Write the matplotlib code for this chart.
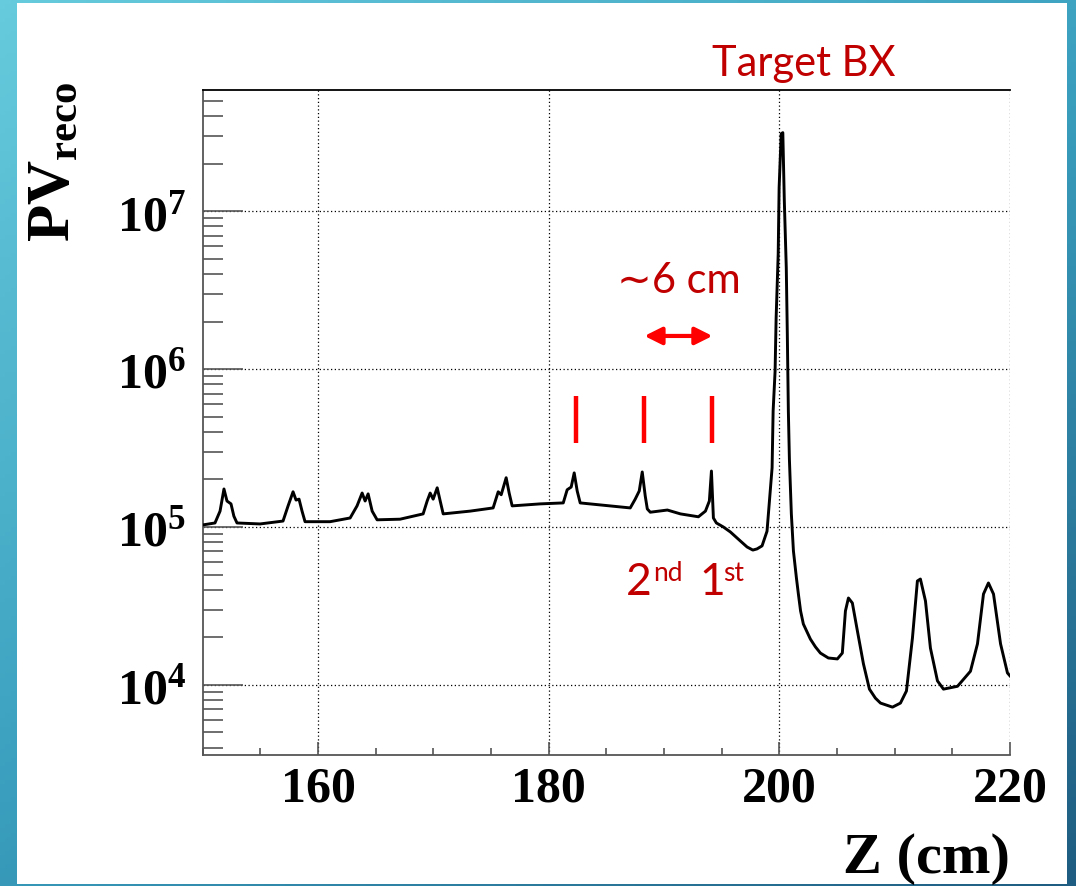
import numpy as np
import matplotlib
matplotlib.use("Agg")
import matplotlib.pyplot as plt
from matplotlib.colors import LinearSegmentedColormap
from matplotlib.ticker import FixedLocator, LogLocator, MultipleLocator, NullFormatter

plt.rcParams['mathtext.fontset'] = 'custom'
plt.rcParams['mathtext.rm'] = 'Liberation Serif'
plt.rcParams['mathtext.bf'] = 'Liberation Serif:bold'
plt.rcParams['mathtext.it'] = 'Liberation Serif:italic'

# ---- data ----
z = [150.0, 151.06, 151.5, 151.84, 152.1, 152.45, 152.7, 152.97, 154.97, 156.96,
     157.4, 157.83, 158.09, 158.35, 158.61, 158.87, 161.04, 162.78, 163.38, 163.82,
     164.08, 164.34, 164.69, 165.12, 167.11, 169.11, 169.46, 169.72, 169.98, 170.33,
     170.59, 170.85, 173.19, 175.18, 175.62, 175.88, 176.31, 176.57, 176.83, 179.26,
     181.26, 181.6, 181.95, 182.21, 182.47, 182.73, 187.07, 187.5, 187.85, 188.11,
     188.37, 188.55, 188.81, 190.29, 191.42, 192.98, 193.59, 193.93, 194.11, 194.28,
     194.54, 195.14, 195.75, 196.62, 197.2, 197.7, 198.06, 198.5, 198.93, 199.37,
     199.46, 199.63, 199.72, 199.9, 199.98, 200.16, 200.3, 200.43, 200.6, 200.69,
     200.78, 200.87, 201.04, 201.22, 201.48, 201.65, 201.84, 202.08, 202.69, 203.13,
     203.56, 204.25, 205.03, 205.46, 205.73, 205.99, 206.33, 206.77, 207.29, 207.81,
     208.33, 208.77, 209.81, 210.5, 211.02, 211.54, 211.97, 212.23, 212.67, 213.1,
     213.71, 214.23, 215.45, 216.57, 217.18, 217.7, 218.13, 218.57, 219.18, 219.78,
     220.0]
pv = [1.03e5, 1.06e5, 1.26e5, 1.74e5, 1.46e5, 1.40e5, 1.17e5, 1.06e5, 1.045e5, 1.09e5,
      1.36e5, 1.67e5, 1.48e5, 1.50e5, 1.26e5, 1.08e5, 1.08e5, 1.14e5, 1.36e5, 1.64e5,
      1.46e5, 1.62e5, 1.26e5, 1.11e5, 1.12e5, 1.21e5, 1.46e5, 1.64e5, 1.50e5, 1.77e5,
      1.46e5, 1.21e5, 1.26e5, 1.32e5, 1.67e5, 1.60e5, 2.05e5, 1.64e5, 1.36e5, 1.40e5,
      1.42e5, 1.72e5, 1.79e5, 2.20e5, 1.69e5, 1.42e5, 1.32e5, 1.50e5, 1.69e5, 2.23e5,
      1.57e5, 1.30e5, 1.24e5, 1.28e5, 1.21e5, 1.16e5, 1.26e5, 1.46e5, 2.26e5, 1.14e5,
      1.06e5, 1.0e5, 9.3e4, 8.15e4, 7.47e4, 7.14e4, 7.26e4, 7.59e4, 9.4e4, 2.37e5,
      5.43e5, 9.7e5, 2.11e6, 5.37e6, 1.41e7, 3.09e7, 3.14e7, 1.16e7, 4.38e6, 1.67e6,
      5.43e5, 2.70e5, 1.21e5, 7.05e4, 4.75e4, 3.76e4, 2.94e4, 2.43e4, 1.95e4, 1.74e4,
      1.59e4, 1.48e4, 1.46e4, 1.59e4, 2.94e4, 3.55e4, 3.30e4, 2.19e4, 1.36e4, 9.4e3,
      8.24e3, 7.67e3, 7.23e3, 7.67e3, 9.15e3, 1.98e4, 4.55e4, 4.68e4, 3.40e4, 1.71e4,
      1.06e4, 9.4e3, 9.8e3, 1.22e4, 1.82e4, 3.76e4, 4.42e4, 3.76e4, 1.82e4, 1.19e4,
      1.14e4]

x_ticks = [160, 180, 200, 220]
x_tick_labels = ['160', '180', '200', '220']
y_ticks = [1e4, 1e5, 1e6, 1e7]
y_tick_labels = [r'$\mathbf{10^{4}}$', r'$\mathbf{10^{5}}$', r'$\mathbf{10^{6}}$', r'$\mathbf{10^{7}}$']
bunch_marks = [182.4, 188.3, 194.2]
arrow_z = [188.3, 194.2]

W, H = 1076, 886
fig = plt.figure(figsize=(W / 100, H / 100), dpi=100)

# ---- slide background ----
bg = fig.add_axes([0, 0, 1, 1], zorder=-10)
gx = np.linspace(0, 1, 200)
gy = np.linspace(0, 1, 200)
GX, GY = np.meshgrid(gx, gy)
grad = 0.55 * GY + 0.45 * GX
cmap = LinearSegmentedColormap.from_list('bg', ['#66cbdc', '#3a9fbe', '#1f5d82'])
bg.imshow(grad, cmap=cmap, aspect='auto', extent=[0, 1, 0, 1], origin='upper')
bg.add_patch(plt.Rectangle((17 / W, 1 - 884 / H), (1067 - 17) / W, (884 - 3) / H,
                           facecolor='white', edgecolor='none'))
bg.set_xlim(0, 1)
bg.set_ylim(0, 1)
bg.axis('off')

# ---- main axes ----
ax = fig.add_axes([202.75 / W, 1 - 755 / H, (1010 - 202.75) / W, (755 - 90) / H])
ax.set_facecolor('none')
ax.plot(z, pv, color='black', lw=2.1, solid_joinstyle='round', zorder=3)
ax.set_yscale('log')
ax.set_xlim(150, 220)
ax.set_ylim(10 ** 3.556, 10 ** 7.767)

ax.xaxis.set_major_locator(FixedLocator(x_ticks))
ax.set_xticklabels(x_tick_labels, fontfamily='Liberation Serif', fontweight='bold', fontsize=36)
ax.xaxis.set_minor_locator(MultipleLocator(5))
ax.yaxis.set_major_locator(FixedLocator(y_ticks))
ax.set_yticklabels(y_tick_labels, fontsize=36)
ax.yaxis.set_minor_locator(LogLocator(base=10, subs=np.arange(2, 10)))
ax.yaxis.set_minor_formatter(NullFormatter())

ax.tick_params(axis='y', which='major', direction='in', length=28.8, width=1.2, color='#555555', pad=12)
ax.tick_params(axis='y', which='minor', direction='in', length=14.4, width=1.2, color='#555555')
ax.tick_params(axis='x', which='major', direction='in', length=9.4, width=1.2, color='#555555', pad=8)
ax.tick_params(axis='x', which='minor', direction='in', length=5, width=1.2, color='#555555')
ax.tick_params(top=False, right=False, which='both')

ax.grid(True, which='major', linestyle=(0, (1, 2)), color='black', linewidth=0.9)
ax.spines['right'].set_visible(False)
ax.spines['left'].set_color('#555555')
ax.spines['bottom'].set_color('#555555')
ax.spines['left'].set_linewidth(1.3)
ax.spines['bottom'].set_linewidth(1.3)
ax.spines['top'].set_linewidth(1.3)

# ---- annotations (red) ----
for zm in bunch_marks:
    ax.plot([zm, zm], [3.41e5, 6.76e5], color='#ff0000', lw=3.2, solid_capstyle='butt', zorder=4)
ax.annotate('', xy=(arrow_z[0], 1.62e6), xytext=(arrow_z[1], 1.62e6),
            arrowprops=dict(arrowstyle='<|-|>', color='#ff0000', lw=3,
                            mutation_scale=26, shrinkA=0, shrinkB=0))

red = '#c00000'
sans = ['Lato', 'DejaVu Sans']
fig.text(712 / W, 1 - 76 / H, 'Target BX', color=red, fontsize=30, family=sans,
         ha='left', va='baseline')
fig.text(617 / W, 1 - 293 / H, '\u223c6 cm', color=red, fontsize=30, family=sans,
         ha='left', va='baseline')
fig.text(626 / W, 1 - 595 / H, '2', color=red, fontsize=32, family=sans, ha='left', va='baseline')
fig.text(653 / W, 1 - 581 / H, 'nd', color=red, fontsize=19, family=sans, ha='left', va='baseline')
fig.text(699 / W, 1 - 595 / H, '1', color=red, fontsize=32, family=sans, ha='left', va='baseline')
fig.text(723 / W, 1 - 581 / H, 'st', color=red, fontsize=19, family=sans, ha='left', va='baseline')

# ---- axis titles ----
fig.text(52 / W, 1 - 162 / H, r'$\mathbf{PV_{reco}}$', fontsize=44, rotation=90,
         ha='center', va='center')
fig.text(1010 / W, 1 - 873 / H, 'Z (cm)', fontsize=42, fontfamily='Liberation Serif',
         fontweight='bold', ha='right', va='baseline')

fig.savefig('out.png', dpi=100)
